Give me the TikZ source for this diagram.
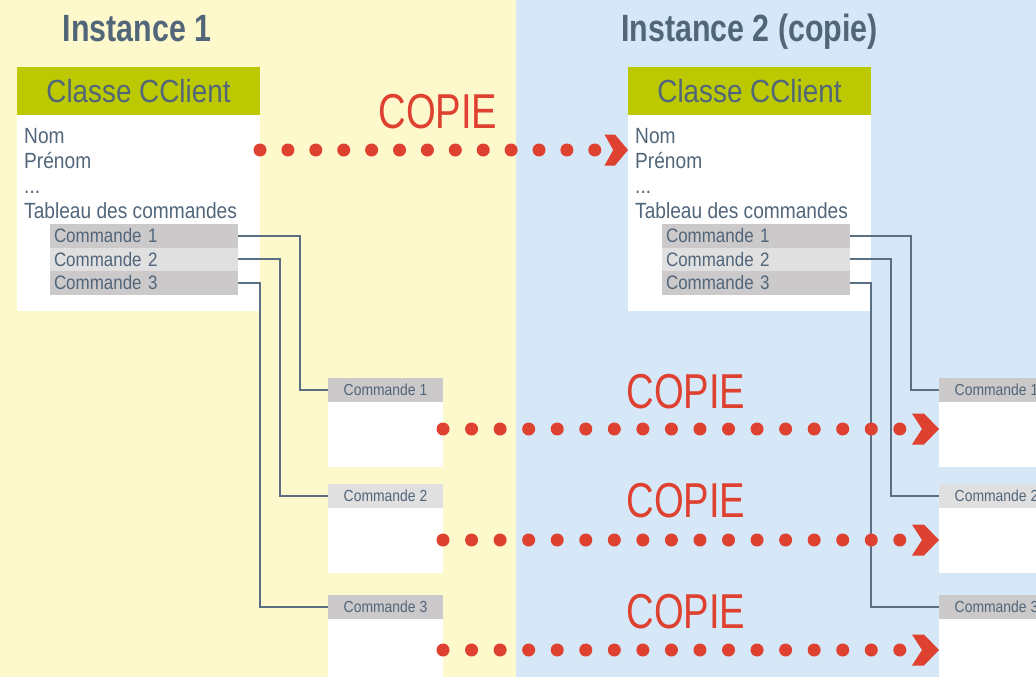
\documentclass[tikz,border=0pt]{standalone}
\usepackage{fontspec}
\setmainfont{Liberation Sans}
\newfontfamily\rf[FakeStretch=0.87]{Liberation Sans}
\newfontfamily\cf[FakeStretch=0.78]{Liberation Sans}
\newfontfamily\tf[FakeStretch=0.8]{Liberation Sans}
\usetikzlibrary{calc}
\definecolor{ybg}{HTML}{FEF8CD}
\definecolor{bbg}{HTML}{D6E7F8}
\definecolor{slate}{HTML}{52667A}
\definecolor{lslate}{HTML}{5B6F82}
\definecolor{cred}{HTML}{DF4130}
\definecolor{hgreen}{HTML}{BCC800}
\definecolor{gdark}{HTML}{CBC9CA}
\definecolor{glight}{HTML}{E0E0E0}
\begin{document}
\begin{tikzpicture}[x=1pt,y=-1pt,
  box/.style={anchor=north west, inner sep=0pt, outer sep=0pt, draw=none},
  hdr/.style={box, fill=hgreen, minimum width=243pt, minimum height=48pt, text=slate, font=\rf\fontsize{32}{38}\selectfont},
  body/.style={box, fill=white, minimum width=243pt, minimum height=195.5pt},
  txt/.style={anchor=base west, inner sep=0pt, text=slate, font=\rf\fontsize{22}{26}\selectfont},
  row/.style={box, minimum width=188pt, minimum height=23.5pt, text width=180pt, inner xsep=4pt, align=left, text=slate, font=\rf\fontsize{19.5}{22}\selectfont},
  sh/.style={box, minimum width=115pt, minimum height=24pt, text=slate, font=\rf\fontsize{16}{19}\selectfont},
  sb/.style={box, fill=white, minimum width=115pt},
  conn/.style={draw=lslate, line width=2pt},
  dots/.style={draw=cred, line width=13pt, line cap=round},
  copie/.style={text=cred, font=\cf\fontsize{49}{55}\selectfont, anchor=base, inner sep=0pt},
  title/.style={text=slate, font=\tf\bfseries\fontsize{38}{44}\selectfont, anchor=base, inner sep=0pt},
  chev/.pic={\fill[cred] (-27,-15.5) -- (-15,-15.5) -- (0,0) -- (-15,15.5) -- (-27,15.5) -- (-17,0) -- cycle;}
]
\useasboundingbox (0,0) rectangle (1036,677);
\clip (0,0) rectangle (1036,677);
% backgrounds
\fill[ybg] (0,0) rectangle (516,677);
\fill[bbg] (516,0) rectangle (1036,677);
% titles
\node[title] (t1) at (137,42) {Instance 1};
\node[title] (t2) at (749.5,42) {Instance 2 (copie)};
% left class
\node[body] (lb) at (17,115) {};
\node[hdr] (lh) at (17,67) {Classe CClient};
\node[txt] (ln1) at (24,143) {Nom};
\node[txt] (ln2) at (24,168) {Prénom};
\node[txt] (ln3) at (24,193) {...};
\node[txt] (ln4) at (24,218) {Tableau des commandes};
\node[row, fill=gdark] (lr1) at (50,224) {Commande 1};
\node[row, fill=glight] (lr2) at (50,247.5) {Commande 2};
\node[row, fill=gdark] (lr3) at (50,271) {Commande 3};
% right class
\node[body] (rb) at (628,115) {};
\node[hdr] (rh) at (628,67) {Classe CClient};
\node[txt] (rn1) at (635,143) {Nom};
\node[txt] (rn2) at (635,168) {Prénom};
\node[txt] (rn3) at (635,193) {...};
\node[txt] (rn4) at (635,218) {Tableau des commandes};
\node[row, fill=gdark] (rr1) at (662,224) {Commande 1};
\node[row, fill=glight] (rr2) at (662,247.5) {Commande 2};
\node[row, fill=gdark] (rr3) at (662,271) {Commande 3};
% left small boxes
\node[sb, minimum height=65pt] (ls1b) at (328,402) {};
\node[sh, fill=gdark] (ls1) at (328,378) {Commande 1};
\node[sb, minimum height=65pt] (ls2b) at (328,508) {};
\node[sh, fill=glight] (ls2) at (328,484) {Commande 2};
\node[sb, minimum height=70pt] (ls3b) at (328,619) {};
\node[sh, fill=gdark] (ls3) at (328,595) {Commande 3};
% right small boxes
\node[sb, minimum height=65pt] (rs1b) at (939,402) {};
\node[sh, fill=gdark] (rs1) at (939,378) {Commande 1};
\node[sb, minimum height=65pt] (rs2b) at (939,508) {};
\node[sh, fill=glight] (rs2) at (939,484) {Commande 2};
\node[sb, minimum height=70pt] (rs3b) at (939,619) {};
\node[sh, fill=gdark] (rs3) at (939,595) {Commande 3};
% connectors
\draw[conn] (lr1.east) -| ($(ls1.west)+(-28,0)$) -- (ls1.west);
\draw[conn] (lr2.east) -| ($(ls2.west)+(-48,0)$) -- (ls2.west);
\draw[conn] (lr3.east) -| ($(ls3.west)+(-68,0)$) -- (ls3.west);
\draw[conn] (rr1.east) -| ($(rs1.west)+(-28,0)$) -- (rs1.west);
\draw[conn] (rr2.east) -| ($(rs2.west)+(-48,0)$) -- (rs2.west);
\draw[conn] (rr3.east) -| ($(rs3.west)+(-68,0)$) -- (rs3.west);
% copy arrows
\coordinate (y0) at (0,150);
\coordinate (y1) at (0,429);
\coordinate (y2) at (0,540);
\coordinate (y3) at (0,650);
\coordinate (s0) at (lb.east |- y0);
\coordinate (e0) at (rb.west |- y0);
\coordinate (s1) at (ls1b.east |- y1);
\coordinate (e1) at (rs1b.west |- y1);
\coordinate (s2) at (ls2b.east |- y2);
\coordinate (e2) at (rs2b.west |- y2);
\coordinate (s3) at (ls3b.east |- y3);
\coordinate (e3) at (rs3b.west |- y3);
\draw[dots, dash pattern=on 0pt off 27.9pt] (s0) -- ($(e0)+(-33,0)$);
\pic[xscale=0.87] at (e0) {chev};
\draw[dots, dash pattern=on 0pt off 28.55pt] (s1) -- ($(e1)+(-39,0)$);
\pic at (e1) {chev};
\draw[dots, dash pattern=on 0pt off 28.55pt] (s2) -- ($(e2)+(-39,0)$);
\pic at (e2) {chev};
\draw[dots, dash pattern=on 0pt off 28.55pt] (s3) -- ($(e3)+(-39,0)$);
\pic at (e3) {chev};
% labels
\node[copie] (c0) at (438,128) {COPIE};
\node[copie] (c1) at (686,408) {COPIE};
\node[copie] (c2) at (686,517) {COPIE};
\node[copie] (c3) at (686,628) {COPIE};
\end{tikzpicture}
\end{document}
